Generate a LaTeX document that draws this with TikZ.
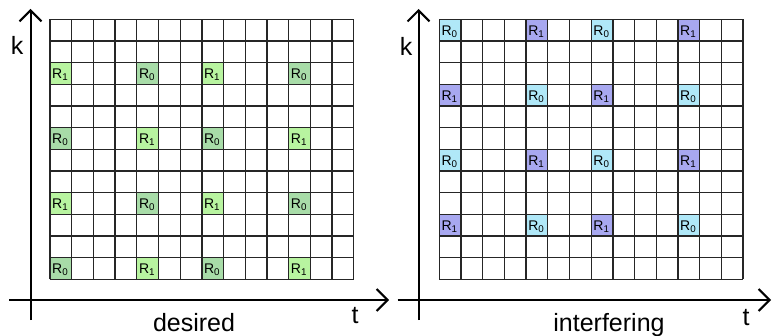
\documentclass[tikz,border=0pt]{standalone}
\usepackage{fontspec}
\setmainfont{Liberation Sans}
\usepackage{tikz}
\usetikzlibrary{arrows.meta, positioning}

\definecolor{desZero}{HTML}{A8DCA8}
\definecolor{desOne}{HTML}{B8F4A0}
\definecolor{intZero}{HTML}{B0E8F8}
\definecolor{intOne}{HTML}{A8A8F0}

\begin{document}
\begin{tikzpicture}[
  x=1pt, y=1pt,
  font=\fontsize{25}{30}\selectfont,
  gridline/.style={line width=1.3pt, black!85, xstep=21.7pt, ystep=21.65pt},
  axis/.style={line width=2pt, -{Straight Barb[length=11pt, width=22pt]}},
  rlbl/.style={font=\fontsize{14}{16}\selectfont, anchor=base west, inner sep=0pt},
  axlbl/.style={inner sep=0pt},
  captxt/.style={anchor=base, inner sep=0pt}
]
  \useasboundingbox (0,0) rectangle (773,335);

  % desired: time-frequency grid
  \begin{scope}[shift={(50,55.7)}, x=21.7pt, y=21.65pt]
    \foreach \c/\r/\n in {0/2/1, 4/2/0, 7/2/1, 11/2/0,
                          0/5/0, 4/5/1, 7/5/0, 11/5/1,
                          0/8/1, 4/8/0, 7/8/1, 11/8/0,
                          0/11/0, 4/11/1, 7/11/0, 11/11/1}{
      \ifnum\n=0 \fill[desZero] (\c,11-\r) rectangle ++(1,1);
      \else \fill[desOne] (\c,11-\r) rectangle ++(1,1); \fi
    }
    \draw[gridline] (0,0) grid (14,12);
    \foreach \c/\r/\n in {0/2/1, 4/2/0, 7/2/1, 11/2/0,
                          0/5/0, 4/5/1, 7/5/0, 11/5/1,
                          0/8/1, 4/8/0, 7/8/1, 11/8/0,
                          0/11/0, 4/11/1, 7/11/0, 11/11/1}
      \node[rlbl] (d-\c-\r) at ([shift={(2pt,5.7pt)}]\c,11-\r) {R\textsubscript{\n}};
  \end{scope}

  % interfering: time-frequency grid
  \begin{scope}[shift={(439.3,55.7)}, x=21.7pt, y=21.65pt]
    \foreach \c/\r/\n in {0/0/0, 4/0/1, 7/0/0, 11/0/1,
                          0/3/1, 4/3/0, 7/3/1, 11/3/0,
                          0/6/0, 4/6/1, 7/6/0, 11/6/1,
                          0/9/1, 4/9/0, 7/9/1, 11/9/0}{
      \ifnum\n=0 \fill[intZero] (\c,11-\r) rectangle ++(1,1);
      \else \fill[intOne] (\c,11-\r) rectangle ++(1,1); \fi
    }
    \draw[gridline] (0,0) grid (14,12);
    \foreach \c/\r/\n in {0/0/0, 4/0/1, 7/0/0, 11/0/1,
                          0/3/1, 4/3/0, 7/3/1, 11/3/0,
                          0/6/0, 4/6/1, 7/6/0, 11/6/1,
                          0/9/1, 4/9/0, 7/9/1, 11/9/0}
      \node[rlbl] (i-\c-\r) at ([shift={(2pt,5.7pt)}]\c,11-\r) {R\textsubscript{\n}};
  \end{scope}

  % axes
  \coordinate (dkb) at (30.5,15);
  \coordinate (dkt) at (30.5,326);
  \coordinate (dtl) at (9,35);
  \coordinate (dtr) at (389,35);
  \draw[axis] (dkb) -- (dkt);
  \draw[axis] (dtl) -- (dtr);

  \coordinate (ikb) at (418.5,15);
  \coordinate (ikt) at (418.5,326);
  \coordinate (itl) at (397.5,35);
  \coordinate (itr) at (771,35);
  \draw[axis] (ikb) -- (ikt);
  \draw[axis] (itl) -- (itr);

  % labels
  \node[axlbl] (dk) at (17,290) {k};
  \node[axlbl] (dt) at (355,19) {t};
  \node[captxt] (des) at (194,4) {desired};
  \node[axlbl] (ik) at (406,289) {k};
  \node[axlbl] (it) at (746,17) {t};
  \node[captxt] (intf) at (609,4) {interfering};
\end{tikzpicture}
\end{document}
